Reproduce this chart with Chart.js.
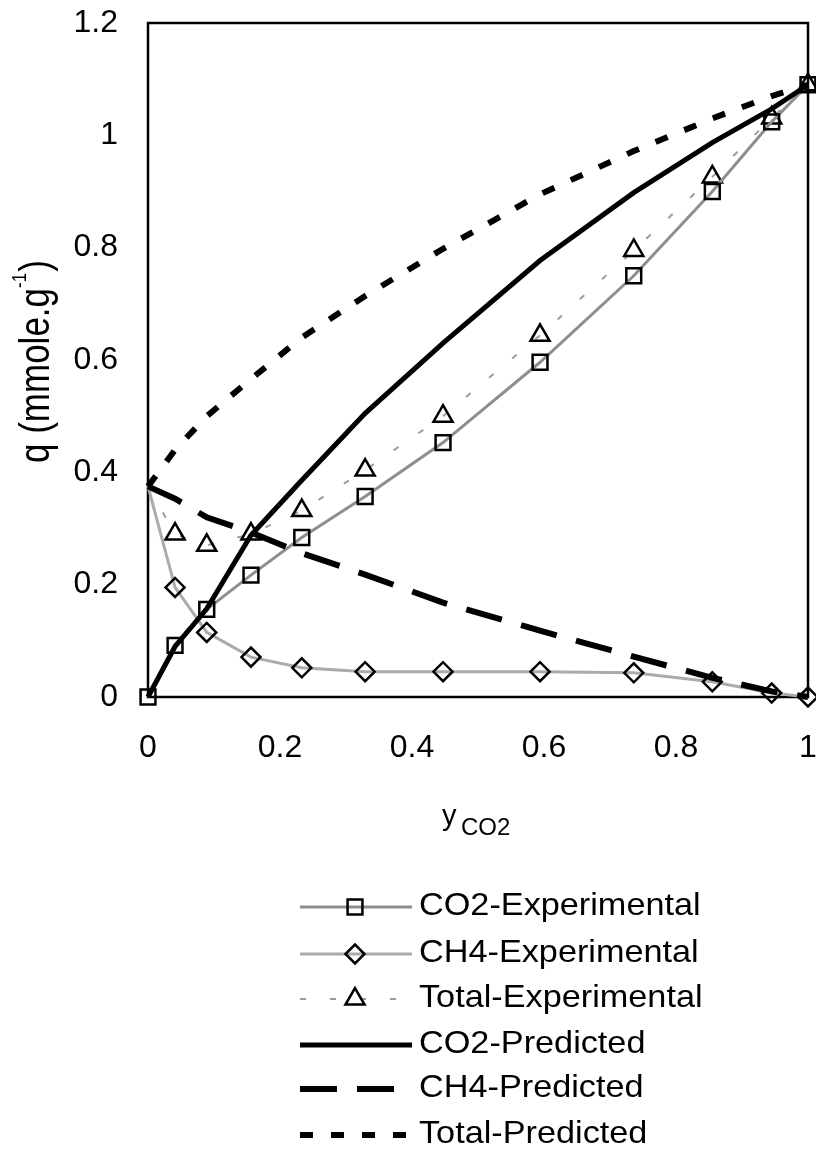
<!DOCTYPE html>
<html>
<head>
<meta charset="utf-8">
<script src="https://cdn.jsdelivr.net/npm/chart.js@4.4.1/dist/chart.umd.min.js"></script>
<style>
    html, body { margin: 0; padding: 0; background: #fff; overflow: hidden; }
    #wrap { width: 816px; height: 1151px; }
</style>
</head>
<body>
<div id="wrap"><canvas id="isothermChart" width="816" height="1151"></canvas></div>
<script>
'use strict';

// mole fraction of CO2 in the gas phase
var yCO2 = [0, 0.041, 0.089, 0.156, 0.233, 0.329, 0.447, 0.594, 0.736, 0.855, 0.945, 1];

var co2Experimental = [0, 0.092, 0.156, 0.217, 0.284, 0.357, 0.453, 0.596, 0.75, 0.9, 1.024, 1.09];
var ch4Experimental = [0.375, 0.195, 0.115, 0.071, 0.052, 0.045, 0.045, 0.045, 0.043, 0.027, 0.007, 0];
var totalExperimental = [0.375, 0.29, 0.27, 0.29, 0.332, 0.404, 0.5, 0.644, 0.795, 0.926, 1.031, 1.09];

var co2Predicted = [0, 0.09, 0.157, 0.288, 0.386, 0.505, 0.63, 0.777, 0.898, 0.987, 1.047, 1.09];
var ch4Predicted = [0.375, 0.353, 0.32, 0.293, 0.256, 0.218, 0.168, 0.118, 0.072, 0.034, 0.01, 0];
var totalPredicted = [0.375, 0.44, 0.5, 0.566, 0.64, 0.714, 0.798, 0.895, 0.972, 1.03, 1.07, 1.09];

var xTicks = [0, 0.2, 0.4, 0.6, 0.8, 1];
var yTicks = [0, 0.2, 0.4, 0.6, 0.8, 1, 1.2];

var FONT = "'Liberation Sans', Arial, Helvetica, sans-serif";

function toPoints(values) {
    return yCO2.map(function (x, i) {
        return {x: x, y: values[i]};
    });
}

// the experimental CH4 / total series have no marker at y = 0
function hideFirst(radius) {
    return function (ctx) {
        return ctx.dataIndex === 0 ? 0 : radius;
    };
}

function experimental(label, values, color, width, dash, style, radius) {
    return {
        label: label,
        data: toPoints(values),
        showLine: true,
        borderColor: color,
        borderWidth: width,
        borderDash: dash,
        pointStyle: style,
        pointRadius: radius,
        legendRadius: typeof radius === 'function' ? radius({dataIndex: 1}) : radius,
        pointBorderColor: '#000',
        pointBorderWidth: 2.5,
        pointBackgroundColor: 'rgba(0,0,0,0)',
        lineTension: 0,
        clip: false,
        order: 2
    };
}

function predicted(label, values, width, dash) {
    return {
        label: label,
        data: toPoints(values),
        showLine: true,
        borderColor: '#000',
        borderWidth: width,
        borderDash: dash,
        pointRadius: 0,
        lineTension: 0,
        clip: false,
        order: 1
    };
}

// keep the plot box fixed, tick labels may hang outside it
function noPadding(scale) {
    scale.paddingTop = 0;
    scale.paddingBottom = 0;
    scale.paddingLeft = 0;
    scale.paddingRight = 0;
}

var framePlugin = {
    id: 'frame',
    beforeDatasetsDraw: function (chart) {
        var a = chart.chartArea, ctx = chart.ctx;
        ctx.save();
        ctx.strokeStyle = '#000';
        ctx.lineWidth = 2.5;
        ctx.strokeRect(a.left, a.top, a.right - a.left, a.bottom - a.top);
        ctx.restore();
    },
    afterDraw: function (chart) {
        var ctx = chart.ctx;
        ctx.save();
        ctx.fillStyle = '#000';
        ctx.textBaseline = 'alphabetic';
        ctx.textAlign = 'left';

        // y axis title, rotated, with superscript
        ctx.save();
        ctx.translate(49, 463);
        ctx.rotate(-Math.PI / 2);
        ctx.scale(1, 1.2);
        ctx.font = '35px ' + FONT;
        var main = 'q (mmole.g';
        ctx.fillText(main, 0, 0);
        var w = ctx.measureText(main).width;
        ctx.font = '17px ' + FONT;
        ctx.fillText('-1', w, -19);
        var w2 = ctx.measureText('-1').width;
        ctx.font = '35px ' + FONT;
        ctx.fillText(')', w + w2 + 1, 0);
        ctx.restore();

        // x axis title with subscript
        ctx.font = '29px ' + FONT;
        ctx.fillText('y', 442, 825);
        ctx.font = '24px ' + FONT;
        ctx.fillText('CO2', 461, 835);

        // legend
        var baselines = [915, 962, 1007, 1053, 1097, 1143];
        chart.data.datasets.forEach(function (ds, i) {
            var y = baselines[i] - 8;
            ctx.save();
            ctx.strokeStyle = ds.borderColor;
            ctx.lineWidth = ds.borderWidth;
            ctx.setLineDash(ds.borderDash || []);
            ctx.beginPath();
            ctx.moveTo(300, y);
            ctx.lineTo(412, y);
            ctx.stroke();
            if (ds.pointStyle) {
                ctx.setLineDash([]);
                ctx.strokeStyle = '#000';
                ctx.lineWidth = 2.5;
                ctx.fillStyle = 'rgba(0,0,0,0)';
                Chart.helpers.drawPoint(ctx, {
                    pointStyle: ds.pointStyle,
                    radius: ds.legendRadius,
                    borderWidth: 2.5,
                    rotation: 0
                }, 355, y);
            }
            ctx.restore();

            ctx.save();
            ctx.translate(419, baselines[i]);
            ctx.scale(1.07, 1);
            ctx.font = '32px ' + FONT;
            ctx.fillStyle = '#000';
            ctx.fillText(ds.label, 0, 0);
            ctx.restore();
        });
        ctx.restore();
    }
};

var chartElement = document.getElementById('isothermChart').getContext('2d');
var chartObject = new Chart(chartElement, {
    type: 'scatter',
    data: {
        datasets: [
            experimental('CO2-Experimental', co2Experimental, '#8e8e8e', 3, [], 'rect', 10.5),
            experimental('CH4-Experimental', ch4Experimental, '#ababab', 3, [], 'rectRot', hideFirst(9.5)),
            experimental('Total-Experimental', totalExperimental, '#9c9c9c', 2, [6, 24], 'triangle', hideFirst(11)),
            predicted('CO2-Predicted', co2Predicted, 5, []),
            predicted('CH4-Predicted', ch4Predicted, 6, [37, 20]),
            predicted('Total-Predicted', totalPredicted, 6, [13, 18])
        ]
    },
    options: {
        responsive: false,
        devicePixelRatio: 1,
        animation: false,
        layout: {
            autoPadding: false,
            padding: {top: 23, right: 8, left: 0, bottom: 0}
        },
        plugins: {
            legend: {display: false},
            tooltip: {enabled: false}
        },
        scales: {
            x: {
                type: 'linear',
                min: 0,
                max: 1,
                grid: {display: false, drawTicks: false},
                border: {display: false},
                afterBuildTicks: function (scale) {
                    scale.ticks = xTicks.map(function (v) { return {value: v}; });
                },
                afterFit: function (scale) {
                    scale.height = 454;
                    noPadding(scale);
                },
                ticks: {
                    padding: 32,
                    color: '#000',
                    font: {family: FONT, size: 32},
                    maxRotation: 0,
                    callback: function (v) { return String(Math.round(v * 10) / 10); }
                }
            },
            y: {
                type: 'linear',
                min: 0,
                max: 1.2,
                grid: {display: false, drawTicks: false},
                border: {display: false},
                afterBuildTicks: function (scale) {
                    scale.ticks = yTicks.map(function (v) { return {value: v}; });
                },
                afterFit: function (scale) {
                    scale.width = 148;
                    noPadding(scale);
                },
                ticks: {
                    padding: 30,
                    color: '#000',
                    font: {family: FONT, size: 32},
                    callback: function (v) { return String(Math.round(v * 10) / 10); }
                }
            }
        }
    },
    plugins: [framePlugin]
});
</script>
</body>
</html>
